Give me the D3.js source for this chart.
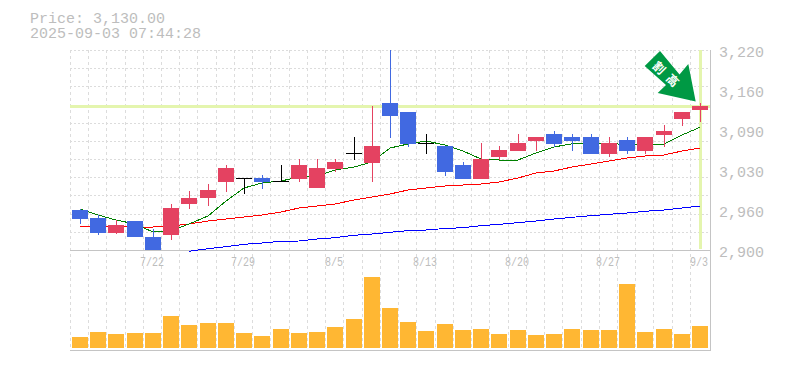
<!DOCTYPE html>
<html><head><meta charset="utf-8">
<script src="https://cdn.jsdelivr.net/npm/d3@7"></script>
<style>html,body{margin:0;padding:0;background:#fff}svg{display:block}text{font-family:"Liberation Mono",monospace}</style>
</head><body><svg id="c" width="785" height="370"></svg>
<script>
const dateLabels = {4:"7/22",9:"7/29",14:"8/5",19:"8/13",24:"8/20",29:"8/27",34:"9/3"};
const priceTicks = [3220,3160,3090,3030,2960,2900];
const priceTickLabels = ["3,220","3,160","3,090","3,030","2,960","2,900"];
const titleLines = ["Price: 3,130.00","2025-09-03 07:44:28"];
const lastPrice = 3130;
const opens = [2964,2951.2,2927.2,2946.4,2920.8,2924,2973.6,2983.2,3008.8,3015.2,3015.2,3010.4,3013.6,2999.2,3029.6,3054.7,3039.2,3135.2,3120.8,3071.2,3066.4,3036,3013.6,3048.8,3058.4,3074.4,3085.6,3080.8,3080.8,3053.6,3076,3058.4,3084,3109.6,3124];
const highs = [2965.6,2956,2948,2946.4,2933.6,2973.6,2994.4,3005.6,3036,3015.2,3020,3036,3045.6,3045.6,3045.6,3080.8,3130.4,3225,3120.8,3085.6,3066.4,3040.8,3071.2,3066.4,3085.6,3080.8,3090.4,3085.6,3085.6,3080.8,3080.8,3080.8,3100,3120.8,3135.2];
const lows = [2941.6,2924,2925.6,2920.8,2890,2916,2965.6,2970.4,2992.8,2989.6,2997.6,3010.4,3008.8,2999.2,3024.8,3044,3008.8,3079.2,3064.8,3053.6,3018.4,3013.6,3013.6,3044,3058.4,3058.4,3064.8,3058.4,3053.6,3048.8,3053.6,3053.6,3064.8,3098.4,3104.8];
const closes = [2949.6,2927.2,2940,2920.8,2892,2967.2,2983.2,2996,3031.2,3015.2,3008.8,3010.4,3036,3031.2,3040.8,3054.7,3066.4,3114.4,3069.6,3071.2,3024.8,3013.6,3045.6,3060,3071.2,3080.8,3069.6,3074.4,3053.6,3071.2,3058.4,3080.8,3090.4,3120.8,3130.4];
const ma5 = [2965.6,2956,2948,2941.6,2928.8,2930.4,2941.6,2954.4,2978.4,2999.2,3007.2,3010.4,3016.8,3018.4,3028,3032.8,3040.8,3063.2,3069.6,3074.4,3068,3058.4,3045.6,3044,3044,3055.2,3064.8,3070,3070.4,3070.4,3068.8,3068.5,3069.6,3084,3096.3];
const ma25 = [2938.4,2938.4,2938.4,2936.8,2936.8,2938.4,2941.6,2946.4,2949.6,2952.8,2956,2960.8,2967.2,2970.4,2973.6,2980,2984.8,2989.6,2996,2999.2,3002.4,3004,3005.6,3008.8,3015.2,3023.2,3026.4,3032.8,3037.6,3042.4,3047.2,3050.4,3052,3058.4,3063.2];
const ma75 = [null,null,null,null,null,null,2897.9,2902.1,2905.3,2909.1,2911.2,2913.9,2914.4,2917.6,2919.7,2923.5,2925.6,2928.3,2930.9,2932,2934.4,2935.7,2938.9,2941.1,2943.7,2946.4,2949.6,2952.3,2954.9,2957.1,2959.2,2961.9,2964,2967.2,2970.4];
const volumes = [3.67,5.33,4.67,5,5,10.67,7.67,8.33,8.33,5,4,6.33,5,5.33,7,9.67,23.67,13.33,8.67,5.67,8,6,6.33,4.67,6,4.33,4.67,6.33,6,6,21.33,5.33,6.33,4.67,7.33];
const arrowChars = ["割","高"];

const svg = d3.select("#c");
const n = closes.length, idx = d3.range(n);
const x = d3.scaleBand().domain(idx).range([70.8,709.2]);
const cx = i => Math.round(x(i)+x.bandwidth()/2);
const y = d3.scaleLinear().domain([2900,3220]).range([250,50]);
const v = d3.scaleLinear().domain([0,24]).range([348,276]);
const GRID="#dcdcdc", AXIS="#c4c4c4", TXT="#bdbdbd", UP="#e44261", DOWN="#4169e1", VOL="#ffb733", LIME="#e4f5ae";

svg.append("defs").append("clipPath").attr("id","pc").append("rect").attr("x",70).attr("y",50).attr("width",640).attr("height",200);

// grid
const g = svg.append("g").attr("shape-rendering","crispEdges");
g.selectAll(".v").data(idx).join("line")
  .attr("x1",i=>Math.round(x(i))-.5).attr("x2",i=>Math.round(x(i))-.5).attr("y1",50).attr("y2",350)
  .attr("stroke",GRID).attr("stroke-dasharray","3,3");
g.selectAll(".h").data(d3.range(0,11)).join("line")
  .attr("x1",70).attr("x2",710).attr("y1",i=>Math.round(50+i*200/11)+.5).attr("y2",i=>Math.round(50+i*200/11)+.5)
  .attr("stroke",GRID).attr("stroke-dasharray","2,2");
[250.5,350.5].forEach(p=>g.append("line").attr("x1",70).attr("x2",711).attr("y1",p).attr("y2",p).attr("stroke",AXIS));
g.append("line").attr("x1",710.5).attr("x2",710.5).attr("y1",50).attr("y2",350).attr("stroke",AXIS);

// last-price cross
g.append("line").attr("x1",70).attr("x2",710).attr("y1",y(lastPrice)).attr("y2",y(lastPrice)).attr("stroke",LIME).attr("stroke-width",3);
g.append("line").attr("x1",cx(n-1)).attr("x2",cx(n-1)).attr("y1",50).attr("y2",249).attr("stroke",LIME).attr("stroke-width",3);

// moving averages (behind the candles)
const ln = a => d3.line().defined(i=>a[i]!=null).x(cx).y(i=>y(a[i]))(idx);
[[ma75,"#0000ff"],[ma25,"#ff0000"],[ma5,"#008000"]].forEach(([a,c])=>{
  svg.append("path").attr("d",ln(a)).attr("fill","none").attr("stroke",c).attr("stroke-width",1).attr("shape-rendering","crispEdges");
});

// candles
const pl = svg.append("g").attr("clip-path","url(#pc)");
const cnd = pl.append("g").attr("shape-rendering","crispEdges");
const col = i => closes[i]>opens[i]?UP:(closes[i]<opens[i]?DOWN:"#000");
cnd.selectAll(".w").data(idx).join("line")
  .attr("x1",i=>cx(i)+.5).attr("x2",i=>cx(i)+.5)
  .attr("y1",i=>y(highs[i])).attr("y2",i=>y(lows[i]))
  .attr("stroke",col);
cnd.selectAll(".b").data(idx).join("rect")
  .attr("x",i=>cx(i)-8).attr("width",16)
  .attr("y",i=>Math.round(y(Math.max(opens[i],closes[i]))))
  .attr("height",i=>Math.max(1,Math.round(y(Math.min(opens[i],closes[i])))-Math.round(y(Math.max(opens[i],closes[i])))))
  .attr("fill",col);

// volumes
svg.append("g").attr("shape-rendering","crispEdges").selectAll("rect").data(idx).join("rect")
  .attr("x",i=>cx(i)-8).attr("width",16)
  .attr("y",i=>Math.round(v(volumes[i]))).attr("height",i=>348-Math.round(v(volumes[i])))
  .attr("fill",VOL);

// axis labels
svg.selectAll(".pt").data(priceTicks).join("text")
  .attr("x",719).attr("y",(d,i)=>57+i*40).attr("font-size",15).attr("fill",TXT).text((d,i)=>priceTickLabels[i]);
svg.selectAll(".dt").data(Object.keys(dateLabels).map(Number)).join("text")
  .attr("x",i=>cx(i)-1).attr("y",266).attr("text-anchor","middle").attr("font-size",13).attr("fill",TXT)
  .attr("textLength",i=>dateLabels[i].length*6).attr("lengthAdjust","spacingAndGlyphs").text(i=>dateLabels[i]);
svg.selectAll(".tt").data(titleLines).join("text")
  .attr("x",30).attr("y",(d,i)=>23+i*15).attr("font-size",15).attr("fill",TXT).text(d=>d);

// arrow
const ar = svg.append("g");
ar.append("path").attr("d","M660,51 L644.7,66 L666,85 L657.7,93 L695.7,101.5 L688.3,64 L679.5,74.5 Z").attr("fill","#009944");
ar.selectAll("text").data(arrowChars).join("text")
  .attr("transform",(d,i)=>`translate(${660+i*13.3},${67+i*12.7}) rotate(45)`)
  .attr("text-anchor","middle").attr("dominant-baseline","central")
  .attr("font-size",12).attr("font-weight","bold").attr("fill","#fff").style("font-family","'Noto Sans CJK JP'").text(d=>d);
</script></body></html>
